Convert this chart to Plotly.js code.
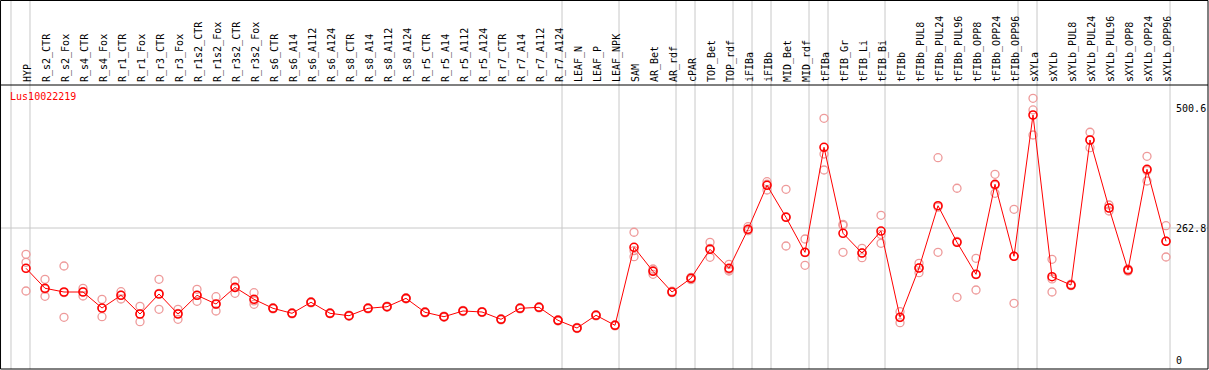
<!DOCTYPE html>
<html>
<head>
<meta charset="utf-8">
<script src="https://cdn.plot.ly/plotly-3.0.1.min.js"></script>
<style>
  html, body { margin: 0; padding: 0; background: #ffffff; }
  #chart { width: 1209px; height: 370px; }
</style>
</head>
<body>
<div id="chart"></div>
<script>
const chartTitle = 'Lus10022219';

const categories = [
  'HYP','R_s2_CTR','R_s2_Fox','R_s4_CTR','R_s4_Fox','R_r1_CTR','R_r1_Fox','R_r3_CTR','R_r3_Fox',
  'R_r1s2_CTR','R_r1s2_Fox','R_r3s2_CTR','R_r3s2_Fox','R_s6_CTR','R_s6_A14','R_s6_A112','R_s6_A124',
  'R_s8_CTR','R_s8_A14','R_s8_A112','R_s8_A124','R_r5_CTR','R_r5_A14','R_r5_A112','R_r5_A124',
  'R_r7_CTR','R_r7_A14','R_r7_A112','R_r7_A124','LEAF_N','LEAF_P','LEAF_NPK','SAM','AR_Bet','AR_rdf',
  'cPAR','TOP_Bet','TOP_rdf','iFIBa','iFIBb','MID_Bet','MID_rdf','tFIBa','tFIB_Gr','tFIB_Li','tFIB_Bi',
  'tFIBb','tFIBb_PUL8','tFIBb_PUL24','tFIBb_PUL96','tFIBb_OPP8','tFIBb_OPP24','tFIBb_OPP96',
  'sXYLa','sXYLb','sXYLb_PUL8','sXYLb_PUL24','sXYLb_PUL96','sXYLb_OPP8','sXYLb_OPP24','sXYLb_OPP96'
];

const meanValues = [
  182.6,142.8,135.4,135.4,103.5,128.8,91.6,131.4,91.6,
  128.8,111.5,144.7,120.9,102.9,93.0,114.9,93.0,
  88.2,102.9,106.1,122.8,95.0,86.2,97.6,95.6,
  81.0,102.9,104.9,79.0,63.7,89.0,69.1,224.4,176.6,135.4,
  162.7,220.4,182.6,260.2,347.8,284.1,214.4,423.5,252.3,213.0,256.8,
  85.0,183.2,307.2,234.3,170.6,349.8,206.5,
  487.8,165.8,149.3,438.0,302.6,179.2,379.7,236.3
];

const replicate1 = [
  210.4,160.7,187.2,142.8,120.9,136.0,106.9,160.7,100.9,
  140.8,126.0,157.3,134.0,104.1,94.2,116.0,94.1,
  89.3,104.0,107.3,124.0,96.1,87.4,98.8,96.5,
  82.1,104.2,106.0,80.1,64.8,90.2,70.3,254.3,181.2,137.0,
  164.7,234.3,190.5,265.4,355.0,339.9,240.9,481.2,270.2,222.4,288.1,
  96.2,192.5,402.8,341.9,202.5,369.7,300.0,
  521.0,200.5,151.0,453.4,308.6,181.0,405.6,267.4
];

const replicate2 = [
  137.4,126.8,85.0,127.4,86.2,121.5,76.3,100.9,81.0,
  116.9,97.6,132.8,110.9,101.8,91.9,113.7,92.0,
  87.1,101.7,104.9,121.6,93.8,85.1,96.4,94.7,
  79.9,101.8,103.7,77.8,62.6,87.9,68.0,205.7,170.6,134.0,
  160.0,204.5,177.2,257.4,338.5,227.0,188.5,378.3,214.4,203.7,232.3,
  74.3,173.8,214.4,124.8,139.4,331.9,112.9,
  448.0,135.4,148.0,422.7,296.7,176.8,356.4,205.1
];

const replicate3 = [
  194.5,141.0,134.0,136.0,103.4,128.9,91.6,132.6,92.9,
  128.7,110.9,144.0,117.8,102.8,92.9,115.0,92.9,
  88.2,103.0,106.1,122.8,95.1,86.1,97.6,95.6,
  81.0,102.7,105.0,79.1,63.7,88.9,69.0,217.6,178.0,135.2,
  163.4,222.4,180.1,257.8,350.0,285.4,213.8,410.1,268.0,213.0,250.0,
  84.5,183.3,304.4,236.2,169.9,347.8,206.6,
  497.8,161.5,149.0,438.0,302.5,180.8,377.0,236.4
];

// indices of the last category of each group (separator drawn after them)
const groupEnds = [-1, 0, 28, 31, 34, 35, 37, 38, 39, 41, 42, 45, 52, 53, 60];

const yTickValues = [0, 262.8, 500.6];
const yTickLabels = ['0', '262.8', '500.6'];
const gridValue = 262.8;

const MONO = 'DejaVu Sans Mono, Liberation Mono, monospace';
const RED = '#ff0000';
const PINK = '#ee9a9a';
const GRAY = '#c8c8c8';

const repX = [].concat(categories, categories, categories);
const repY = [].concat(replicate1, replicate2, replicate3);

const traces = [
  {
    type: 'scatter', mode: 'markers', x: repX, y: repY,
    marker: { symbol: 'circle-open', size: 8, color: PINK, line: { width: 1.3, color: PINK } },
    hoverinfo: 'skip', showlegend: false
  },
  {
    type: 'scatter', mode: 'lines+markers', x: categories, y: meanValues,
    line: { color: RED, width: 1 },
    marker: { symbol: 'circle-open', size: 8, color: RED, line: { width: 1.6, color: RED } },
    hoverinfo: 'skip', showlegend: false
  }
];

const W = 1209, H = 370;
const mL = 1, mR = 1, mT = 85, mB = 1;
const plotH = H - mT - mB;
const topPaper = (plotH + mT - 0.5) / plotH;

const shapes = [];
groupEnds.forEach(function (g) {
  shapes.push({
    type: 'line', xref: 'x', yref: 'paper', x0: g + 0.21, x1: g + 0.21, y0: 0, y1: topPaper,
    line: { color: GRAY, width: 1 }, layer: 'below'
  });
});
shapes.push({
  type: 'line', xref: 'paper', yref: 'y', x0: 0, x1: 1, y0: gridValue, y1: gridValue,
  line: { color: GRAY, width: 1 }, layer: 'below'
});
shapes.push({
  type: 'rect', xref: 'paper', yref: 'paper', x0: -0.0004, x1: 1, y0: 0, y1: topPaper,
  line: { color: '#000000', width: 1 }, layer: 'above'
});
shapes.push({
  type: 'line', xref: 'paper', yref: 'paper', x0: 0, x1: 1, y0: 1, y1: 1,
  line: { color: '#000000', width: 1 }, layer: 'above'
});

const layout = {
  width: W, height: H, autosize: false,
  margin: { l: mL, r: mR, t: mT, b: mB, pad: 0 },
  paper_bgcolor: '#ffffff', plot_bgcolor: 'rgba(0,0,0,0)',
  font: { family: MONO, size: 10, color: '#000000' },
  title: {
    text: chartTitle, font: { family: MONO, size: 10, color: RED },
    xref: 'paper', yref: 'paper', x: 0.0075, xanchor: 'left', y: 0.958, yanchor: 'middle'
  },
  showlegend: false,
  xaxis: {
    type: 'category', categoryorder: 'array', categoryarray: categories,
    range: [-1.316, 62.21], side: 'top', tickangle: -90, ticks: '',
    ticklabelshift: 2, ticklabelstandoff: 2,
    showgrid: false, zeroline: false, showline: false, fixedrange: true,
    tickfont: { family: MONO, size: 10, color: '#000000' }, automargin: false
  },
  yaxis: {
    range: [-17.9, 547.5], anchor: 'free', position: 0.9727, side: 'right',
    tickmode: 'array', tickvals: yTickValues, ticktext: yTickLabels, ticks: '',
    showgrid: false, zeroline: false, showline: false, fixedrange: true,
    tickfont: { family: MONO, size: 10, color: '#000000' }, automargin: false
  },
  shapes: shapes
};

Plotly.newPlot('chart', traces, layout, { staticPlot: true, displayModeBar: false });
</script>
</body>
</html>
